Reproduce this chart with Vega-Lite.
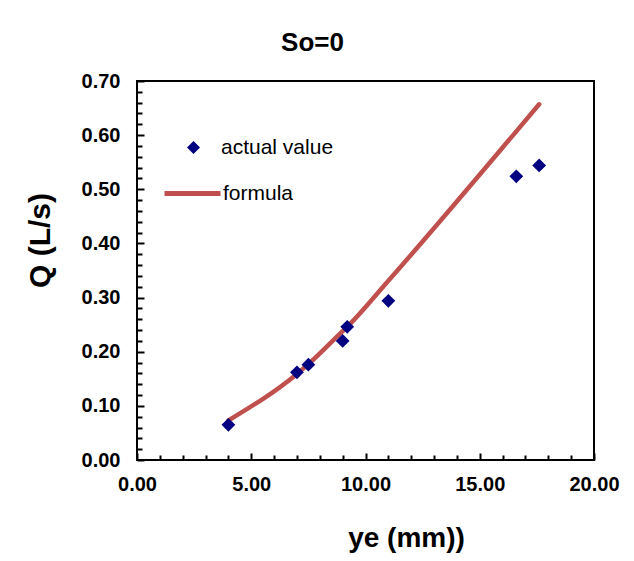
{
  "$schema": "https://vega.github.io/schema/vega-lite/v6.json",
  "width": 457,
  "height": 379,
  "autosize": {"type": "none"},
  "padding": {"left": 137, "top": 81, "right": 40, "bottom": 101},
  "background": "white",
  "title": {
    "text": "So=0",
    "anchor": "middle",
    "frame": "group",
    "dx": -53,
    "offset": -6,
    "baseline": "alphabetic",
    "font": "Liberation Sans",
    "fontSize": 26,
    "fontWeight": "bold",
    "color": "black"
  },
  "config": {
    "view": {"stroke": "black", "strokeWidth": 2},
    "font": "Liberation Sans"
  },
  "encoding": {
    "x": {
      "field": "ye",
      "type": "quantitative",
      "scale": {"domain": [0, 20], "nice": false, "zero": false},
      "axis": {
        "values": [0, 1, 2, 3, 4, 5, 6, 7, 8, 9, 10, 11, 12, 13, 14, 15, 16, 17, 18, 19, 20],
        "labelExpr": "datum.value % 5 === 0 ? format(datum.value, '.2f') : ''",
        "ticks": true,
        "tickSize": {"expr": "datum.value % 5 === 0 ? -7 : -5"},
        "tickWidth": 2,
        "tickColor": "black",
        "tickOpacity": 1,
        "domain": false,
        "grid": false,
        "labelFont": "Liberation Sans",
        "labelFontSize": 20,
        "labelFontWeight": "bold",
        "labelColor": "black",
        "labelPadding": 21,
        "labelOverlap": false,
        "labelFlush": false,
        "title": "ye (mm))",
        "titleFont": "Liberation Sans",
        "titleFontSize": 28,
        "titleFontWeight": "bold",
        "titleColor": "black",
        "titleX": 269,
        "titleY": 86,
        "titleAlign": "center",
        "titleBaseline": "alphabetic"
      }
    },
    "y": {
      "field": "Q",
      "type": "quantitative",
      "scale": {"domain": [0, 0.7], "nice": false},
      "axis": {
        "values": [0, 0.02, 0.04, 0.06, 0.08, 0.1, 0.12, 0.14, 0.16, 0.18, 0.2, 0.22, 0.24, 0.26, 0.28, 0.3, 0.32, 0.34, 0.36, 0.38, 0.4, 0.42, 0.44, 0.46, 0.48, 0.5, 0.52, 0.54, 0.56, 0.58, 0.6, 0.62, 0.64, 0.66, 0.68, 0.7],
        "labelExpr": "abs(datum.value * 10 - round(datum.value * 10)) < 0.001 ? format(datum.value, '.2f') : ''",
        "ticks": true,
        "tickSize": {"expr": "abs(datum.value * 10 - round(datum.value * 10)) < 0.001 ? -7 : -5"},
        "tickWidth": 2,
        "tickColor": "black",
        "tickOpacity": 1,
        "domain": false,
        "grid": false,
        "labelFont": "Liberation Sans",
        "labelFontSize": 20,
        "labelFontWeight": "bold",
        "labelColor": "black",
        "labelPadding": 24,
        "labelOverlap": false,
        "labelFlush": false,
        "title": "Q (L/s)",
        "titleFont": "Liberation Sans",
        "titleFontSize": 30,
        "titleFontWeight": "bold",
        "titleColor": "black",
        "titleAngle": -90,
        "titleX": -88,
        "titleY": 159,
        "titleAlign": "center",
        "titleBaseline": "alphabetic"
      }
    }
  },
  "layer": [
    {
      "data": {
        "values": [
          {"ye": 4.0, "Q": 0.073, "series": "formula"},
          {"ye": 7.0, "Q": 0.159, "series": "formula"},
          {"ye": 7.5, "Q": 0.177, "series": "formula"},
          {"ye": 9.0, "Q": 0.238, "series": "formula"},
          {"ye": 9.2, "Q": 0.246, "series": "formula"},
          {"ye": 11.0, "Q": 0.331, "series": "formula"},
          {"ye": 16.6, "Q": 0.607, "series": "formula"},
          {"ye": 17.6, "Q": 0.657, "series": "formula"}
        ]
      },
      "mark": {"type": "line", "strokeWidth": 4.5, "strokeCap": "round", "interpolate": "monotone"},
      "encoding": {
        "stroke": {
          "field": "series",
          "type": "nominal",
          "scale": {"domain": ["formula"], "range": ["#C0504D"]},
          "legend": {
            "orient": "none",
            "legendX": 25,
            "legendY": 82,
            "title": null,
            "padding": 0,
            "symbolType": "stroke",
            "symbolSize": 3136,
            "symbolStrokeWidth": 5,
            "labelFont": "Liberation Sans",
            "labelFontSize": 21,
            "labelColor": "black",
            "labelOffset": 0
          }
        }
      }
    },
    {
      "data": {
        "values": [
          {"ye": 4.0, "Q": 0.065, "series": "actual value"},
          {"ye": 7.0, "Q": 0.162, "series": "actual value"},
          {"ye": 7.5, "Q": 0.176, "series": "actual value"},
          {"ye": 9.0, "Q": 0.220, "series": "actual value"},
          {"ye": 9.2, "Q": 0.246, "series": "actual value"},
          {"ye": 11.0, "Q": 0.294, "series": "actual value"},
          {"ye": 16.6, "Q": 0.524, "series": "actual value"},
          {"ye": 17.6, "Q": 0.544, "series": "actual value"}
        ]
      },
      "mark": {"type": "point", "shape": "diamond", "filled": true, "size": 190, "opacity": 1, "strokeWidth": 0},
      "encoding": {
        "fill": {
          "field": "series",
          "type": "nominal",
          "scale": {"domain": ["actual value"], "range": ["#000080"]},
          "legend": {
            "orient": "none",
            "legendX": 46,
            "legendY": 56,
            "title": null,
            "padding": 0,
            "symbolType": "diamond",
            "symbolSize": 170,
            "symbolStrokeWidth": 0,
            "labelFont": "Liberation Sans",
            "labelFontSize": 21,
            "labelColor": "black",
            "labelOffset": 17
          }
        }
      }
    }
  ]
}
